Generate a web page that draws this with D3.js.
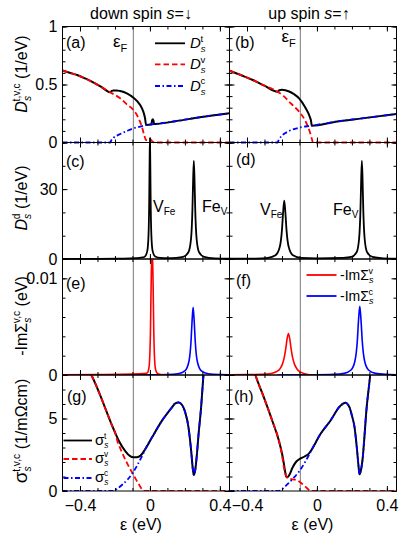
<!DOCTYPE html>
<html>
<head>
<meta charset="utf-8">
<script src="https://cdn.jsdelivr.net/npm/d3@7"></script>
<style>
  body { margin: 0; background: #fff; }
  svg { font-family: "Liberation Sans", Arial, sans-serif; }
</style>
</head>
<body>
<div id="chart"></div>
<script>
// ---- data (energy in eV, value) ----
const eF = -0.095;

// (a) / (b) band DOS, 1/eV
const dtDown = [[-0.5,0.62],[-0.45,0.597],[-0.416,0.582],[-0.37,0.552],[-0.322,0.516],[-0.275,0.476],[-0.227,0.433],[-0.218,0.445],[-0.208,0.449],[-0.19,0.449],[-0.17,0.444],[-0.132,0.424],[-0.094,0.386],[-0.056,0.323],[-0.038,0.266],[-0.028,0.209],[-0.022,0.151],[0.008,0.155],[0.012,0.19],[0.016,0.2],[0.02,0.19],[0.024,0.16],[0.03,0.16],[0.152,0.185],[0.285,0.217],[0.455,0.252]];
const dvDown = [[-0.5,0.62],[-0.45,0.597],[-0.416,0.582],[-0.37,0.552],[-0.322,0.516],[-0.275,0.476],[-0.227,0.433],[-0.2,0.41],[-0.17,0.381],[-0.132,0.329],[-0.094,0.28],[-0.065,0.209],[-0.046,0.136],[-0.033,0.065],[-0.022,0.02],[-0.01,0.02],[0.0,0.028],[0.008,0.02],[0.016,0.005],[0.03,0],[0.455,0]];
const dcDown = [[-0.5,0],[-0.227,0],[-0.22,0.022],[-0.208,0.041],[-0.17,0.073],[-0.132,0.099],[-0.094,0.122],[-0.056,0.136],[-0.022,0.151],[0.03,0.16],[0.152,0.185],[0.285,0.217],[0.455,0.252]];
const dtUp = [[-0.5,0.619],[-0.43,0.578],[-0.367,0.539],[-0.3,0.49],[-0.225,0.438],[-0.215,0.45],[-0.2,0.454],[-0.159,0.44],[-0.13,0.416],[-0.102,0.381],[-0.064,0.295],[-0.041,0.222],[-0.033,0.18],[-0.03,0.145],[0.107,0.179],[0.258,0.208],[0.455,0.246]];
const dvUp = [[-0.5,0.619],[-0.43,0.578],[-0.367,0.539],[-0.3,0.49],[-0.225,0.438],[-0.19,0.4],[-0.159,0.352],[-0.13,0.31],[-0.102,0.266],[-0.064,0.179],[-0.041,0.093],[-0.03,0.036],[-0.022,0],[0.455,0]];
const dcUp = [[-0.5,0],[-0.225,0],[-0.218,0.025],[-0.206,0.05],[-0.159,0.099],[-0.102,0.128],[-0.03,0.145],[0.107,0.179],[0.258,0.208],[0.455,0.246]];

// (c) / (d) defect d-DOS, 1/eV
const ddDown = [[-0.5,0.05],[-0.3,0.08],[-0.15,0.15],[-0.08,0.35],[-0.05,0.6],[-0.03,1.0],[-0.015,3.5],[-0.008,10.4],[-0.004,26],[-0.002,41.6],[0.0,52],[0.002,41.6],[0.004,26],[0.008,10.6],[0.015,3.6],[0.03,1.1],[0.06,0.5],[0.1,0.4],[0.15,0.5],[0.19,0.9],[0.22,2.9],[0.235,8.6],[0.243,21.3],[0.247,34],[0.251,42.2],[0.255,34],[0.259,21.3],[0.267,8.6],[0.281,2.9],[0.31,0.9],[0.37,0.3],[0.455,0.15]];
const ddUp = [[-0.5,0.1],[-0.35,0.2],[-0.28,0.5],[-0.237,1.6],[-0.213,5],[-0.2,12.5],[-0.1935,20],[-0.187,25],[-0.1805,20],[-0.174,12.5],[-0.161,5],[-0.137,1.6],[-0.09,0.5],[0.0,0.3],[0.15,0.5],[0.197,0.9],[0.227,2.9],[0.241,8.6],[0.249,21.3],[0.253,34],[0.257,42.2],[0.261,34],[0.265,21.3],[0.273,8.6],[0.287,2.9],[0.317,0.9],[0.38,0.3],[0.455,0.15]];

// (e) / (f) -Im self energy, eV
const imvDown = [[-0.5,0.00003],[-0.3,0.00005],[-0.1,0.0001],[-0.04,0.00015],[-0.016,0.0002],[-0.007,0.0006],[-0.002,0.0015],[0.003,0.0045],[0.007,0.0095],[0.0125,0.0135],[0.018,0.0095],[0.022,0.0045],[0.027,0.0015],[0.032,0.0006],[0.041,0.0002],[0.06,0.00005],[0.1,0]];
const imcDown = [[-0.227,0],[0.0,0.00001],[0.097,0.00004],[0.16,0.00013],[0.2,0.00043],[0.223,0.0014],[0.235,0.0035],[0.241,0.0056],[0.247,0.007],[0.253,0.0056],[0.259,0.0035],[0.271,0.0014],[0.294,0.00043],[0.334,0.00013],[0.397,0.00004],[0.455,0.00002]];
const imvUp = [[-0.5,0.00002],[-0.4,0.00004],[-0.313,0.00007],[-0.263,0.00015],[-0.233,0.00033],[-0.213,0.0006],[-0.198,0.0011],[-0.187,0.0018],[-0.178,0.00275],[-0.171,0.0037],[-0.163,0.0043],[-0.155,0.0037],[-0.148,0.00275],[-0.139,0.0018],[-0.128,0.0011],[-0.113,0.0006],[-0.093,0.0003],[-0.07,0.00012],[-0.035,0],[0.0,0]];
const imcUp = [[-0.225,0],[0.0,0.00002],[0.095,0.00006],[0.155,0.00017],[0.195,0.00052],[0.217,0.00142],[0.231,0.00355],[0.238,0.0057],[0.245,0.0071],[0.252,0.0057],[0.259,0.00355],[0.273,0.00142],[0.295,0.00052],[0.335,0.00017],[0.395,0.00006],[0.455,0.00003]];

// (g) / (h) conductivity, 1/mOhm cm
const sgtDown = [[-0.36,8.5],[-0.333,7.95],[-0.291,6.8],[-0.254,5.66],[-0.216,4.5],[-0.2,4.05],[-0.178,3.47],[-0.14,2.74],[-0.115,2.42],[-0.096,2.32],[-0.075,2.33],[-0.054,2.44],[-0.026,2.9],[0.012,3.7],[0.069,4.85],[0.126,5.77],[0.145,6.05],[0.164,6.11],[0.183,5.95],[0.2016,5.43],[0.2205,4.39],[0.2357,2.78],[0.2452,1.52],[0.2508,1.1],[0.2584,1.4],[0.2679,2.43],[0.2774,3.82],[0.2926,5.77],[0.3058,7.95],[0.318,9.6]];
const sgvDown = [[-0.36,8.5],[-0.333,7.95],[-0.291,6.8],[-0.254,5.66],[-0.216,4.5],[-0.2,4.05],[-0.185,3.4],[-0.17,2.95],[-0.15,2.4],[-0.13,1.9],[-0.11,1.45],[-0.096,1.17],[-0.08,0.8],[-0.06,0.4],[-0.045,0.1],[-0.035,0],[0.455,0]];
const sgcDown = [[-0.5,0],[-0.216,0],[-0.19,0.12],[-0.159,0.43],[-0.125,0.83],[-0.096,1.29],[-0.075,1.72],[-0.054,2.2],[-0.035,2.65],[-0.026,2.9],[0.012,3.7],[0.069,4.85],[0.126,5.77],[0.145,6.05],[0.164,6.11],[0.183,5.95],[0.2016,5.43],[0.2205,4.39],[0.2357,2.78],[0.2452,1.52],[0.2508,1.1],[0.2584,1.4],[0.2679,2.43],[0.2774,3.82],[0.2926,5.77],[0.3058,7.95],[0.318,9.6]];
const sgtUp = [[-0.365,8.5],[-0.35,7.93],[-0.303,6.44],[-0.255,4.83],[-0.217,3.45],[-0.2,2.6],[-0.19,1.95],[-0.182,1.35],[-0.176,1.0],[-0.168,0.95],[-0.158,1.1],[-0.14,1.6],[-0.12,2.0],[-0.1,2.2],[-0.07,2.38],[-0.045,2.6],[-0.03,2.85],[0.019,3.91],[0.076,4.83],[0.133,5.86],[0.162,6.09],[0.187,5.75],[0.2,5.2],[0.215,4.4],[0.228,3.0],[0.238,1.7],[0.2435,1.15],[0.25,1.35],[0.262,2.3],[0.272,3.8],[0.281,5.29],[0.304,7.93],[0.315,9.3]];
const sgvUp = [[-0.365,8.5],[-0.35,7.93],[-0.303,6.44],[-0.255,4.83],[-0.217,3.45],[-0.2,2.5],[-0.19,1.7],[-0.178,1.1],[-0.165,0.86],[-0.145,0.82],[-0.125,0.78],[-0.105,0.68],[-0.09,0.55],[-0.07,0.35],[-0.05,0.12],[-0.035,0],[0.455,0]];
const sgcUp = [[-0.5,0],[-0.217,0],[-0.2,0.12],[-0.189,0.23],[-0.16,0.57],[-0.132,0.92],[-0.1,1.38],[-0.066,2.03],[-0.045,2.5],[-0.03,2.85],[0.019,3.91],[0.076,4.83],[0.133,5.86],[0.162,6.09],[0.187,5.75],[0.2,5.2],[0.215,4.4],[0.228,3.0],[0.238,1.7],[0.2435,1.15],[0.25,1.35],[0.262,2.3],[0.272,3.8],[0.281,5.29],[0.304,7.93],[0.315,9.3]];

// ticks
const xMinor = [-0.4,-0.3,-0.2,-0.1,0,0.1,0.2,0.3,0.4];
const xMajor = [-0.4,0,0.4];
const xLabels = ["\u22120.4","0","0.4"];
const yMinor = [[0,0.1,0.2,0.3,0.4,0.5,0.6,0.7,0.8,0.9,1],[0,10,20,30,40,50],[0,0.002,0.004,0.006,0.008,0.01,0.012],[0,1,2,3,4,5,6,7,8]];
const yMajor = [[0,0.5,1],[0,30],[0,0.01],[0,5]];
const yLabels = [["0","0.5","1"],["0","30"],["0","0.01"],["0","5"]];

// ---- layout ----
const colX = [[62.5,229.5],[229.5,396.5]];
const rowY = [[26.5,142.5],[142.5,259],[259,375],[375,491]];
const rowDom = [[0,1],[0,50],[0,0.012],[0,8]];
const RED = "#ff0000", BLUE = "#0000ff";

const svg = d3.select("#chart").append("svg")
  .attr("width", 399).attr("height", 537);

const defs = svg.append("defs");

function makePanel(c, r) {
  const x = d3.scaleLinear().domain([-0.5, 0.455]).range(colX[c]);
  const y = d3.scaleLinear().domain(rowDom[r]).range([rowY[r][1], rowY[r][0]]);
  const id = "clip" + c + r;
  defs.append("clipPath").attr("id", id).append("rect")
    .attr("x", colX[c][0]).attr("y", rowY[r][0])
    .attr("width", colX[c][1] - colX[c][0]).attr("height", rowY[r][1] - rowY[r][0]);
  const g = svg.append("g");
  return {x, y, g, c, r, clip: "url(#" + id + ")"};
}

function drawLine(p, data, color, dash, width, clip) {
  const line = d3.line().x(d => p.x(d[0])).y(d => p.y(d[1])).curve(d3.curveMonotoneX);
  const path = p.g.append("path").datum(data)
    .attr("d", line).attr("fill", "none")
    .attr("stroke", color).attr("stroke-width", width || 1.8);
  if (dash) path.attr("stroke-dasharray", dash);
  if (clip) path.attr("clip-path", p.clip);
  return path;
}

function frame(p) {
  const {x, y, g, c, r} = p;
  const [x0, x1] = x.range();
  const [y1, y0] = y.range();
  const addAxis = (axis, tr, vals, len) => {
    const a = g.append("g").attr("transform", tr)
      .call(axis.tickValues(vals).tickSizeInner(-len).tickSizeOuter(0).tickFormat(""));
    a.select(".domain").remove();
    a.selectAll("line").attr("stroke", "#000");
  };
  addAxis(d3.axisBottom(x), `translate(0,${y1})`, xMinor, 3);
  addAxis(d3.axisTop(x), `translate(0,${y0})`, xMinor, 3);
  addAxis(d3.axisBottom(x), `translate(0,${y1})`, xMajor, 5);
  addAxis(d3.axisTop(x), `translate(0,${y0})`, xMajor, 5);
  addAxis(d3.axisLeft(y), `translate(${x0},0)`, yMinor[r], 3);
  addAxis(d3.axisRight(y), `translate(${x1},0)`, yMinor[r], 3);
  addAxis(d3.axisLeft(y), `translate(${x0},0)`, yMajor[r], 5);
  addAxis(d3.axisRight(y), `translate(${x1},0)`, yMajor[r], 5);

  g.append("rect").attr("x", x0).attr("y", y0)
    .attr("width", x1 - x0).attr("height", y1 - y0)
    .attr("fill", "none").attr("stroke", "#000").attr("stroke-width", 1);

  if (c === 0) {
    const a = g.append("g").attr("transform", `translate(${x0},0)`)
      .call(d3.axisLeft(y).tickValues(yMajor[r]).tickSize(0).tickPadding(5)
        .tickFormat((d, i) => yLabels[r][i]));
    a.select(".domain").remove();
    a.attr("font-size", 16).attr("font-family", null);
  }
  if (r === 3) {
    const a = g.append("g").attr("transform", `translate(0,${y1})`)
      .call(d3.axisBottom(x).tickValues(xMajor).tickSize(0).tickPadding(9)
        .tickFormat((d, i) => xLabels[i]));
    a.select(".domain").remove();
    a.attr("font-size", 16).attr("font-family", null);
  }
}

// Fermi level lines
[0, 1].forEach(c => {
  const x = d3.scaleLinear().domain([-0.5, 0.455]).range(colX[c]);
  svg.append("line")
    .attr("x1", x(eF)).attr("x2", x(eF))
    .attr("y1", rowY[0][0]).attr("y2", rowY[3][1])
    .attr("stroke", "#777").attr("stroke-width", 1);
});

const DASH = "5.5,3", DOTDASH = "5,2.5,1.5,2.5";

// panels (a) (b)
const pa = makePanel(0, 0), pb = makePanel(1, 0);
[[pa, dtDown, dvDown, dcDown], [pb, dtUp, dvUp, dcUp]].forEach(([p, t, v, cc]) => {
  drawLine(p, t, "#000", null, 2);
  drawLine(p, v, RED, DASH, 1.8);
  drawLine(p, cc, BLUE, DOTDASH, 1.8);
  frame(p);
});

// panels (c) (d)
const pc = makePanel(0, 1), pd = makePanel(1, 1);
drawLine(pc, ddDown, "#000", null, 1.8);
drawLine(pd, ddUp, "#000", null, 1.8);
frame(pc); frame(pd);

// panels (e) (f)
const pe = makePanel(0, 2), pf = makePanel(1, 2);
drawLine(pe, imcDown, BLUE, null, 1.6, true);
drawLine(pe, imvDown, RED, null, 1.6, true);
drawLine(pf, imcUp, BLUE, null, 1.6, true);
drawLine(pf, imvUp, RED, null, 1.6, true);
frame(pe); frame(pf);

// panels (g) (h)
const pg = makePanel(0, 3), ph = makePanel(1, 3);
[[pg, sgtDown, sgvDown, sgcDown], [ph, sgtUp, sgvUp, sgcUp]].forEach(([p, t, v, cc]) => {
  drawLine(p, t, "#000", null, 2, true);
  drawLine(p, v, RED, DASH, 1.8, true);
  drawLine(p, cc, BLUE, DOTDASH, 1.8, true);
  frame(p);
});

// ---- text ----
function txt(x, y, size, anchor) {
  return svg.append("text").attr("x", x).attr("y", y)
    .attr("font-size", size).attr("text-anchor", anchor || "start").attr("fill", "#000");
}

// column titles
let t = txt(141, 19, 16, "middle");
t.append("tspan").text("down spin ");
t.append("tspan").attr("font-style", "italic").text("s");
t.append("tspan").text("=\u2193");
t = txt(309, 19, 16, "middle");
t.append("tspan").text("up spin ");
t.append("tspan").attr("font-style", "italic").text("s");
t.append("tspan").text("=\u2191");

// panel letters
[["(a)",66,48],["(b)",235,48],["(c)",66,167],["(d)",236,165],["(e)",66,289],["(f)",236,286],["(g)",67,402],["(h)",234,402]]
  .forEach(([s, x, y]) => txt(x, y, 16).text(s));

// Fermi level labels
[[113,47],[281.5,42]].forEach(([x, y]) => {
  const e = txt(x, y, 17);
  e.append("tspan").text("\u03b5");
  e.append("tspan").attr("font-size", 11).attr("dy", 5).text("F");
});

// defect peak labels
function peakLabel(x, y, main, sub) {
  const e = txt(x, y, 16);
  e.append("tspan").text(main);
  e.append("tspan").attr("font-size", 10).attr("dy", 3).text(sub);
}
peakLabel(153, 212, "V", "Fe");
peakLabel(202, 212, "Fe", "V");
peakLabel(260, 215, "V", "Fe");
peakLabel(333, 215, "Fe", "V");

// stacked sub/superscript helper; returns the dy that brings the baseline back
function stack(sel, main, sub, sup, fs, italicMain, mainSize) {
  const ms = mainSize || fs;
  sel.append("tspan").attr("font-size", ms).attr("font-style", italicMain ? "italic" : null).text(main);
  sel.append("tspan").attr("font-size", fs * 0.64).attr("font-style", "italic").attr("dy", fs * 0.24).text(sub);
  sel.append("tspan").attr("font-size", fs * 0.64).attr("dx", -fs * 0.34).attr("dy", -fs * 0.68).text(sup);
  return fs * 0.44;
}

// y-axis titles (rotated)
function yTitle(cy, build) {
  const e = svg.append("text")
    .attr("transform", `translate(27,${cy}) rotate(-90)`)
    .attr("text-anchor", "middle").attr("font-size", 16).attr("fill", "#000");
  build(e);
}
yTitle(74, e => {
  const back = stack(e, "D", "s", "t,v,c", 16, true);
  e.append("tspan").attr("dy", back).text(" (1/eV)");
});
yTitle(198, e => {
  const back = stack(e, "D", "s", "d", 16, true);
  e.append("tspan").attr("dy", back).text(" (1/eV)");
});
yTitle(316, e => {
  const back = stack(e, "-Im\u03a3", "s", "v,c", 16, false);
  e.append("tspan").attr("dy", back).text(" (eV)");
});
yTitle(431, e => {
  const back = stack(e, "\u03c3", "s", "t,v,c", 16, false, 19);
  e.append("tspan").attr("dy", back).text(" (1/m\u03a9cm)");
});

// x-axis titles
[141, 312.5].forEach(x => txt(x, 530, 16, "middle").text("\u03b5 (eV)"));

// legends
function legendLine(x0, x1, y, color, dash) {
  const l = svg.append("line").attr("x1", x0).attr("x2", x1).attr("y1", y).attr("y2", y)
    .attr("stroke", color).attr("stroke-width", 1.8);
  if (dash) l.attr("stroke-dasharray", dash);
}
// (a) legend
[["t", "#000", null, 43.3], ["v", RED, DASH, 64.3], ["c", BLUE, DOTDASH, 86]].forEach(([s, col, dash, y]) => {
  legendLine(155, 185, y, col, dash);
  stack(txt(190, y + 5, 15), "D", "s", s, 15, true);
});
// (f) legend
[["v", RED, 275], ["c", BLUE, 296]].forEach(([s, col, y]) => {
  legendLine(306.5, 336.5, y, col, null);
  stack(txt(340, y + 5, 14), "-Im\u03a3", "s", s, 14, false);
});
// (g) legend
[["t", "#000", null, 440.5], ["v", RED, DASH, 459], ["c", BLUE, DOTDASH, 478]].forEach(([s, col, dash, y]) => {
  legendLine(63.5, 92, y, col, dash);
  stack(txt(95, y + 4, 13), "\u03c3", "s", s, 13, false, 15);
});
</script>
</body>
</html>
